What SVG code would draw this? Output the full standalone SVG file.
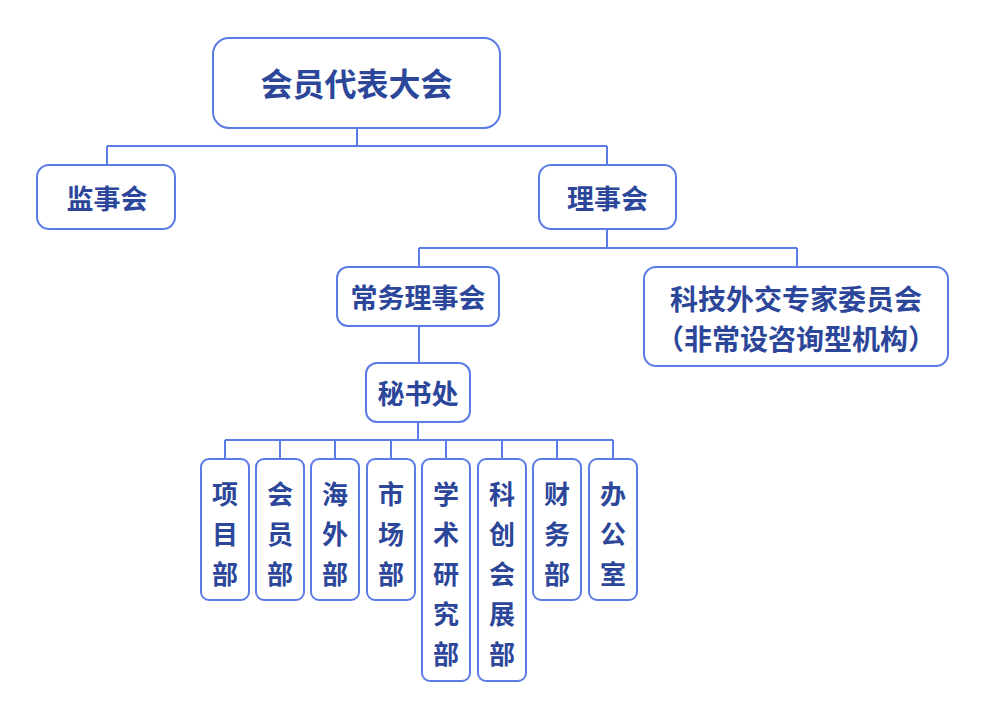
<svg xmlns="http://www.w3.org/2000/svg" width="987" height="720" viewBox="0 0 987 720">
<style>
.box{fill:#fff;stroke:#5b7ce6;stroke-width:2}
.ln{fill:none;stroke:#5b7ce6;stroke-width:2}
text{font-family:"Noto Sans CJK SC","Noto Sans CJK TC",sans-serif;font-weight:700;fill:#2c479a;text-anchor:middle;dominant-baseline:central}
.t1{font-size:32px}
.t2{font-size:27px}
.t4{font-size:28px}
.t3{font-size:26px}
</style>
<rect width="987" height="720" fill="#fff"/>
<g id="connectors">
<path class="ln" d="M357 128V146M107 146H607M107 146V165M607 146V165"/>
<path class="ln" d="M607 229V248M419 248H797M419 248V267M797 248V267"/>
<path class="ln" d="M419 326V363"/>
<path class="ln" d="M418 422V440M225 440H613M225 440V459M280 440V459M335 440V459M391 440V459M446 440V459M502 440V459M557 440V459M613 440V459"/>
</g>
<g id="n-top"><rect class="box" x="213" y="38" width="287" height="90" rx="16"/><text class="t1" x="356.5" y="82">会员代表大会</text></g>
<g id="n-jsh"><rect class="box" x="37" y="165" width="138" height="64" rx="12"/><text class="t2" x="107" y="197">监事会</text></g>
<g id="n-lsh"><rect class="box" x="539" y="165" width="137" height="64" rx="12"/><text class="t2" x="607.5" y="197">理事会</text></g>
<g id="n-cw"><rect class="box" x="337" y="267" width="162" height="59" rx="11"/><text class="t2" x="418" y="296">常务理事会</text></g>
<g id="n-kj"><rect class="box" x="644" y="267" width="304" height="99" rx="12"/><text class="t4" x="796" y="298">科技外交专家委员会</text><text class="t4" x="796" y="338">（非常设咨询型机构）</text></g>
<g id="n-msc"><rect class="box" x="366" y="363" width="104" height="59" rx="11"/><text class="t2" x="418" y="392">秘书处</text></g>
<g id="n-xm"><rect class="box" x="201" y="459" width="48" height="141" rx="8"/><text class="t3" x="225" y="492">项</text><text class="t3" x="225" y="532">目</text><text class="t3" x="225" y="572">部</text></g>
<g id="n-hy"><rect class="box" x="256" y="459" width="48" height="141" rx="8"/><text class="t3" x="280" y="492">会</text><text class="t3" x="280" y="532">员</text><text class="t3" x="280" y="572">部</text></g>
<g id="n-hw"><rect class="box" x="311" y="459" width="48" height="141" rx="8"/><text class="t3" x="335" y="492">海</text><text class="t3" x="335" y="532">外</text><text class="t3" x="335" y="572">部</text></g>
<g id="n-sc"><rect class="box" x="367" y="459" width="48" height="141" rx="8"/><text class="t3" x="391" y="492">市</text><text class="t3" x="391" y="532">场</text><text class="t3" x="391" y="572">部</text></g>
<g id="n-xs"><rect class="box" x="422" y="459" width="48" height="222" rx="8"/><text class="t3" x="446" y="492">学</text><text class="t3" x="446" y="532">术</text><text class="t3" x="446" y="572">研</text><text class="t3" x="446" y="612">究</text><text class="t3" x="446" y="652">部</text></g>
<g id="n-kc"><rect class="box" x="478" y="459" width="48" height="222" rx="8"/><text class="t3" x="502" y="492">科</text><text class="t3" x="502" y="532">创</text><text class="t3" x="502" y="572">会</text><text class="t3" x="502" y="612">展</text><text class="t3" x="502" y="652">部</text></g>
<g id="n-cwb"><rect class="box" x="533" y="459" width="48" height="141" rx="8"/><text class="t3" x="557" y="492">财</text><text class="t3" x="557" y="532">务</text><text class="t3" x="557" y="572">部</text></g>
<g id="n-bgs"><rect class="box" x="589" y="459" width="48" height="141" rx="8"/><text class="t3" x="613" y="492">办</text><text class="t3" x="613" y="532">公</text><text class="t3" x="613" y="572">室</text></g>
</svg>
